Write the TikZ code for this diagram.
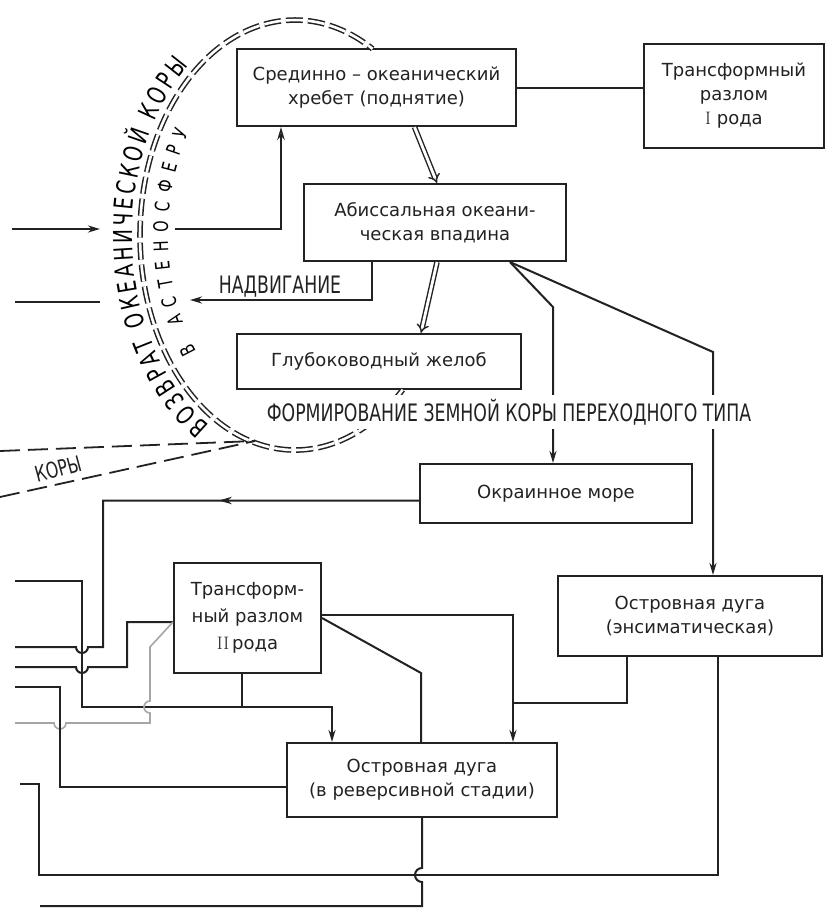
\documentclass[tikz,border=0pt]{standalone}
\usepackage{fontspec}
\newfontfamily\boxfont{DejaVu Sans}
\newfontfamily\capfont[FakeStretch=0.72]{DejaVu Sans}
\usetikzlibrary{arrows.meta,decorations.text,decorations.markings,calc}
\definecolor{ink}{HTML}{222222}
\begin{document}
\begin{tikzpicture}[x=1pt,y=-1pt,color=ink]
\tikzset{
 box/.style={draw, line width=2.1pt, inner sep=0pt, align=center,
   font=\boxfont\fontsize{18pt}{24pt}\selectfont},
 conn/.style={line width=2pt},
 tip/.style={-{Stealth[length=12pt,width=7pt]}},
 otip/.style={-{Stealth[open,length=13pt,width=7.5pt,line width=1.4pt]}},
 dbl/.style={double, double distance=2.8pt, line width=1.4pt, -{Implies}},
 ell/.style={double, double distance=2.6pt, line width=1.5pt, dash pattern=on 17pt off 5pt},
 dsh/.style={line width=1.8pt, dash pattern=on 20pt off 8pt},
 caps/.style={font=\capfont\fontsize{24pt}{24pt}\selectfont, inner sep=0pt},
 graywire/.style={line width=1.6pt, draw=gray!70}
}
\fill[white] (0,0) rectangle (826,910);
\useasboundingbox (0,0) rectangle (826,910);

% boxes
\node[box, minimum width=279pt, minimum height=77pt] (b1) at (376.5,87.5) {Срединно – океанический\\хребет (поднятие)};
\node[box, minimum width=180pt, minimum height=104pt] (b2) at (734,96) {Трансформный\\разлом\\{\rmfamily I} рода};
\node[box, minimum width=262pt, minimum height=77pt] (b3) at (435,222.5) {Абиссальная океани-\\ческая впадина};
\node[box, minimum width=284pt, minimum height=55pt] (b4) at (379,361.5) {Глубоководный желоб};
\node[box, minimum width=272pt, minimum height=59pt] (b5) at (556,493.5) {Окраинное море};
\node[box, minimum width=264pt, minimum height=80pt] (b6) at (690,616) {Островная дуга\\(энсиматическая)};
\node[box, minimum width=147pt, minimum height=110pt, font=\boxfont\fontsize{18pt}{27pt}\selectfont] (b7) at (247.5,618) {Трансформ-\\ный разлом\\{\rmfamily II}\,рода};
\node[box, minimum width=270pt, minimum height=74pt] (b8) at (422,780) {Островная дуга\\(в реверсивной стадии)};

% free ends
\coordinate (l1) at (12,229);
\coordinate (l2) at (100,229);
\coordinate (l3) at (15,302);
\coordinate (l4) at (100,302);
\coordinate (s1) at (175,229);
\coordinate (nad) at (190,300);
\coordinate (w1) at (15,581);
\coordinate (w2) at (15,647);
\coordinate (w3) at (15,667);
\coordinate (w5) at (15,687);
\coordinate (w4) at (15,723);
\coordinate (w6) at (20,784);
\coordinate (w7) at (40,906);
\coordinate (e0) at (255,441);
\coordinate (d1) at (0,451);
\coordinate (d2) at (0,497);
\coordinate (p3) at ([xshift=75pt]b3.south);

% ellipse (return of oceanic crust)
\draw[ell] (402.7,389.7) arc[start angle=46,end angle=300,x radius=155,y radius=215];
\path[decorate, decoration={text along path,
   text={|\capfont\fontsize{26pt}{26pt}\selectfont|ВОЗВРАТ ОКЕАНИЧЕСКОЙ КОРЫ},
   text align={fit to path}, raise=8pt}]
   (215.2,419.3) arc[start angle=121,end angle=230,x radius=155,y radius=215];
\path[decorate, decoration={text along path,
   text={|\capfont\fontsize{20pt}{20pt}\selectfont|В АСТЕНОСФЕРУ},
   text align={fit to path}, raise=-28pt}]
   (171.2,364.4) arc[start angle=143,end angle=212,x radius=155,y radius=215];

% dashed lines bottom-left
\draw[dsh] (d1) -- (e0);
\draw[dsh] (d2) -- (e0);
\node[caps, rotate=15, font=\capfont\fontsize{22pt}{22pt}\selectfont] (tkor) at (58,469) {КОРЫ};

% top connectors
\draw[conn] (b1.east) -- (b1.east -| b2.west);
\draw[dbl] ([xshift=38pt]b1.south) -- ([xshift=2pt]b3.north);
\draw[dbl] ([xshift=2pt]b3.south) -- ([xshift=42pt]b4.north);
\draw[conn,tip] (l1) -- (l2);
\draw[conn] (l3) -- (l4);
\draw[conn,otip] (s1) -| ([xshift=-95.5pt]b1.south);
\draw[conn,tip] ([xshift=-63pt]b3.south) |- (nad);
\node[caps, anchor=base] (tnad) at (280,293) {НАДВИГАНИЕ};
\draw[conn,tip] (p3) -- (553,307) -- ([xshift=-3pt]b5.north);
\draw[conn,tip] (p3) -- (713,352) -- ([xshift=23pt]b6.north);
\node[caps, anchor=base, fill=white, inner xsep=3pt, inner ysep=4pt] (tform) at (509,421) {ФОРМИРОВАНИЕ ЗЕМНОЙ КОРЫ ПЕРЕХОДНОГО ТИПА};

% lower-left wiring
\draw[conn, postaction={decorate, decoration={markings,
   mark=at position 200pt with {\arrow{Stealth[open,length=13pt,width=7.5pt,line width=1.4pt]}}}}]
   ([yshift=-7pt]b5.west) -- (103,500.5) -- (103,647) -- (88,647)
   arc[start angle=0,end angle=180,radius=6] -- (w2);
\draw[conn] (w1) -- (82,581) -- (82,707) -- (242,707);
\draw[conn,tip] ([xshift=-5.5pt]b7.south) -- (242,707) -- (332,707) -- ([xshift=-90pt]b8.north);
\draw[conn] ([yshift=-4pt]b7.west) -- (127,622) -- (127,667) -- (88,667)
   arc[start angle=0,end angle=180,radius=6] -- (w3);
\draw[graywire] ([yshift=-4pt]b7.west) -- (150,647) -- (150,701)
   arc[start angle=270,end angle=90,radius=6] -- (150,723) -- (66,723)
   arc[start angle=0,end angle=180,radius=6] -- (w4);
\draw[conn] (w5) -- (60,687) -- (60,787) -- ([yshift=-7pt]b8.west);

% right/lower wiring
\draw[conn,tip] ([yshift=3pt]b7.east) -- (513,615) -- ([xshift=91pt]b8.north);
\draw[conn] ([xshift=-63pt]b6.south) -- (627,703) -- (513,703);
\draw[conn] (b7.east) -- (421,673) -- ([xshift=-1pt]b8.north);
\draw[conn] ([xshift=28pt]b6.south) -- (718,875) -- (39,875) -- (39,784) -- (w6);
\draw[conn] (b8.south) -- (422,868) arc[start angle=270,end angle=90,radius=7] -- (422,906) -- (w7);
\end{tikzpicture}
\end{document}
